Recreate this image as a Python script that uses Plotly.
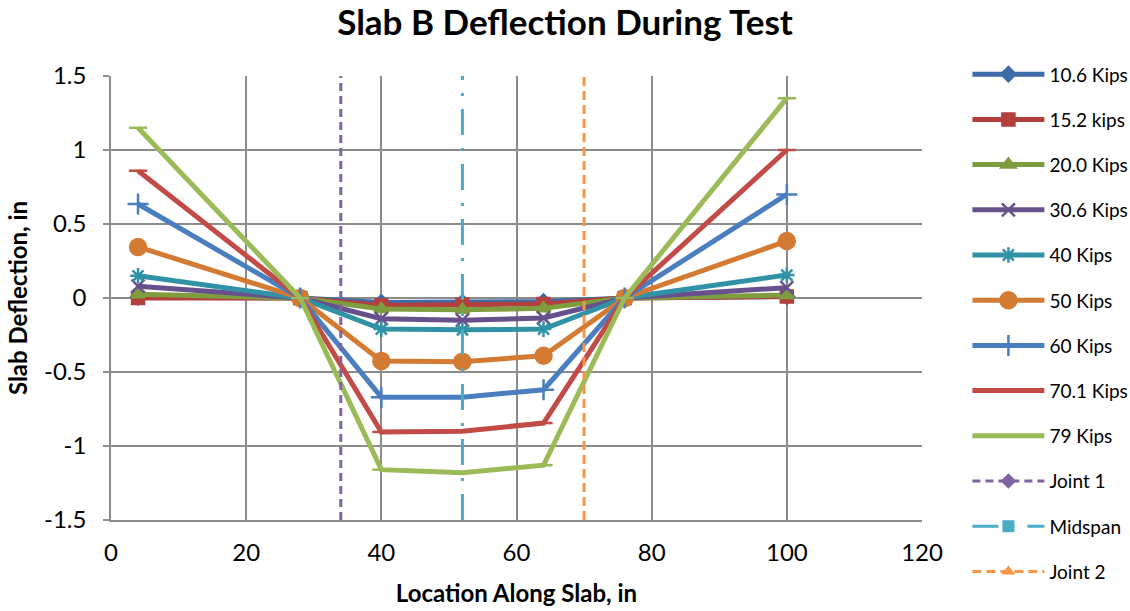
import plotly.graph_objects as go

# Gauge locations along the slab (in)
locations = [4, 28, 40, 52, 64, 76, 100]

# Load step labels and measured deflections (in) at each gauge
load_names = ["10.6 Kips", "15.2 kips", "20.0 Kips", "30.6 Kips", "40 Kips",
              "50 Kips", "60 Kips", "70.1 Kips", "79 Kips"]
defl_10_6 = [0.005, 0.0, -0.03, -0.03, -0.025, 0.0, 0.01]
defl_15_2 = [0.0, 0.0, -0.05, -0.045, -0.04, 0.0, 0.01]
defl_20_0 = [0.025, 0.0, -0.075, -0.08, -0.07, 0.0, 0.02]
defl_30_6 = [0.08, 0.0, -0.14, -0.15, -0.135, 0.0, 0.07]
defl_40 = [0.15, 0.0, -0.21, -0.215, -0.21, 0.0, 0.155]
defl_50 = [0.345, 0.0, -0.425, -0.43, -0.39, 0.0, 0.385]
defl_60 = [0.635, 0.0, -0.67, -0.67, -0.62, 0.0, 0.70]
defl_70_1 = [0.86, 0.0, -0.905, -0.90, -0.845, 0.0, 1.0]
defl_79 = [1.15, 0.0, -1.16, -1.18, -1.13, 0.0, 1.35]
load_series = [defl_10_6, defl_15_2, defl_20_0, defl_30_6, defl_40,
               defl_50, defl_60, defl_70_1, defl_79]

# Reference lines: joints and midspan
ref_names = ["Joint 1", "Midspan", "Joint 2"]
ref_x = [34, 52, 70]
ref_y = [-1.5, 1.5]

# Axis ticks
x_ticks = [0, 20, 40, 60, 80, 100, 120]
y_ticks = [-1.5, -1, -0.5, 0, 0.5, 1, 1.5]
y_tick_text = ["-1.5", "-1", "-0.5", "0", "0.5", "1", "1.5"]

load_colors = ["#3D6CA8", "#B3403D", "#7E9D3E", "#68508C", "#3192A6",
               "#D47B33", "#4A7EBF", "#C24A47", "#9BBB59"]
load_symbols = ["diamond", "square", "triangle-up", "x-thin-open", "asterisk-open",
                "circle", "cross-thin-open", "line-ew-open", "line-ew-open"]
load_sizes = [11, 12, 12, 13, 13, 16, 15, 13, 13]

ref_colors = ["#8064A2", "#4BACC6", "#F79646"]
ref_dashes = ["8px,5px", "26px,13px,3px,13px", "9px,5px"]
ref_symbols = ["diamond", "square", "triangle-up"]

FONT = "Lato"

fig = go.Figure()

for i, (name, vals) in enumerate(zip(load_names, load_series)):
    fig.add_trace(go.Scatter(
        x=locations, y=vals, name=name, legendgroup=name,
        mode="lines+markers",
        line=dict(color=load_colors[i], width=5),
        marker=dict(symbol=load_symbols[i], size=load_sizes[i], color=load_colors[i],
                    line=dict(color=load_colors[i], width=2.5)),
    ))

for i, name in enumerate(ref_names):
    # vertical reference line across the full plot height
    fig.add_trace(go.Scatter(
        x=[ref_x[i], ref_x[i]], y=ref_y, name=name, legendgroup=name,
        mode="lines", showlegend=False,
        line=dict(color=ref_colors[i], width=3, dash=ref_dashes[i]),
    ))
    # legend entry with its marker
    fig.add_trace(go.Scatter(
        x=[None], y=[None], name=name, legendgroup=name,
        mode="lines+markers",
        line=dict(color=ref_colors[i], width=3, dash=ref_dashes[i]),
        marker=dict(symbol=ref_symbols[i], size=12, color=ref_colors[i]),
    ))

grid_color = "#8C8C8C"
fig.update_layout(
    width=1130, height=611,
    margin=dict(l=111, r=208, t=76, b=91, autoexpand=False),
    paper_bgcolor="white", plot_bgcolor="white",
    font=dict(family=FONT, color="#000000"),
    title=dict(text="<b>Slab B Deflection During Test</b>",
               font=dict(family=FONT, size=35, color="#000000"),
               x=0.5, xanchor="center", y=0.962, yanchor="middle", xref="container"),
    showlegend=True,
    legend=dict(x=1.056, xanchor="left", y=1.0465, yanchor="top",
                font=dict(family=FONT, size=19, color="#000000"),
                tracegroupgap=17.5, itemwidth=72, maxheight=600,
                bgcolor="rgba(0,0,0,0)"),
)
fig.update_xaxes(
    range=[0, 120], tickvals=x_ticks, ticks="", showgrid=True, gridcolor=grid_color,
    gridwidth=1.5, showline=True, linecolor=grid_color, linewidth=1.5, mirror=False,
    zeroline=False, tickfont=dict(family=FONT, size=24), ticklabelstandoff=10,
    title=dict(text="<b>Location Along Slab, in</b>", font=dict(family=FONT, size=24), standoff=21),
)
fig.update_yaxes(
    range=[-1.5, 1.5], tickvals=y_ticks, ticktext=y_tick_text, ticks="outside", ticklen=6,
    tickcolor=grid_color, tickwidth=1.5, showgrid=True, gridcolor=grid_color,
    gridwidth=1.5, showline=True, linecolor=grid_color, linewidth=1.5,
    zeroline=False, tickfont=dict(family=FONT, size=24), ticklabelstandoff=12,
    title=dict(text="<b>Slab Deflection, in</b>", font=dict(family=FONT, size=24), standoff=10),
)

fig.write_html("out.html")
